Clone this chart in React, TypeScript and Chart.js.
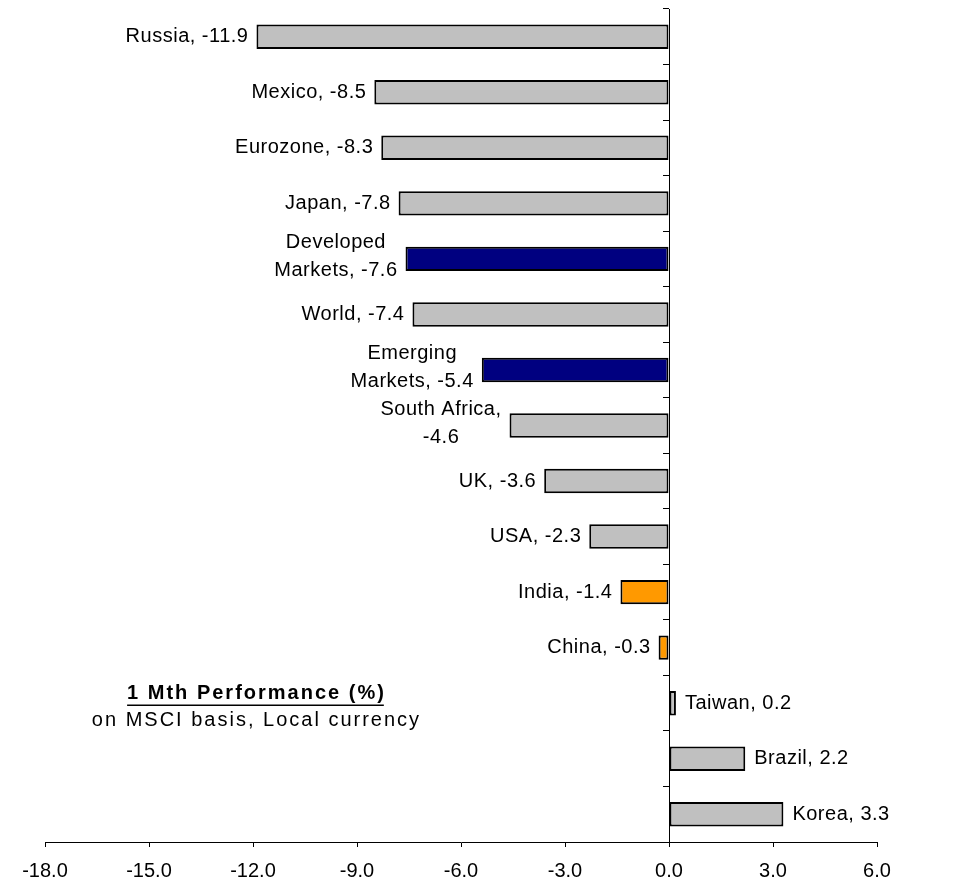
import React, { useEffect, useRef } from 'react';
import { Chart, registerables } from 'chart.js';

Chart.register(...registerables);

const categories = [
  'Russia', 'Mexico', 'Eurozone', 'Japan', 'Developed Markets', 'World',
  'Emerging Markets', 'South Africa', 'UK', 'USA', 'India', 'China',
  'Taiwan', 'Brazil', 'Korea',
];
const values = [-11.9, -8.5, -8.3, -7.8, -7.6, -7.4, -5.4, -4.6, -3.6, -2.3, -1.4, -0.3, 0.2, 2.2, 3.3];
const labelLines: string[][] = [
  ['Russia, -11.9'], ['Mexico, -8.5'], ['Eurozone, -8.3'], ['Japan, -7.8'],
  ['Developed', 'Markets, -7.6'], ['World, -7.4'], ['Emerging', 'Markets, -5.4'],
  ['South Africa,', '-4.6'], ['UK, -3.6'], ['USA, -2.3'], ['India, -1.4'],
  ['China, -0.3'], ['Taiwan, 0.2'], ['Brazil, 2.2'], ['Korea, 3.3'],
];
const GREY = '#C0C0C0';
const NAVY = '#000080';
const ORANGE = '#FF9900';
const barColors = [GREY, GREY, GREY, GREY, NAVY, GREY, NAVY, GREY, GREY, GREY, ORANGE, ORANGE, GREY, GREY, GREY];
const xMin = -18;
const xMax = 6;
const xStep = 3;
const titleText = '1 Mth Performance (%)';
const subtitleText = 'on MSCI basis, Local currency';

const FONT = "'Liberation Sans', Arial, sans-serif";

const labelPlugin = {
  id: 'barLabels',
  afterDatasetsDraw(chart: any) {
    const ctx = chart.ctx as CanvasRenderingContext2D;
    const meta = chart.getDatasetMeta(0);
    ctx.save();
    ctx.font = `20px ${FONT}`;
    (ctx as any).letterSpacing = '0.5px';
    ctx.fillStyle = '#000';
    ctx.textBaseline = 'middle';
    const lineH = 28;
    meta.data.forEach((bar: any, i: number) => {
      const { x, y } = bar.getProps(['x', 'y'], true);
      const lines = labelLines[i];
      const n = lines.length;
      const v = values[i];
      if (v < 0) {
        const maxW = Math.max(...lines.map((l) => ctx.measureText(l).width));
        const cx = x - 8 - maxW / 2;
        ctx.textAlign = 'center';
        lines.forEach((l, j) => {
          ctx.fillText(l, cx, y + (j - (n - 1) / 2) * lineH - (n > 1 ? 2 : 0));
        });
      } else {
        ctx.textAlign = 'left';
        lines.forEach((l, j) => {
          ctx.fillText(l, x + 9, y + (j - (n - 1) / 2) * lineH);
        });
      }
    });

    // annotation
    const xs = chart.scales.x;
    const ys = chart.scales.y;
    const ax = xs.getPixelForValue(-11.9);
    const ay = ys.getPixelForValue(12);
    ctx.textAlign = 'center';
    ctx.font = `bold 20px ${FONT}`;
    (ctx as any).letterSpacing = '2px';
    const y1 = ay - 10;
    ctx.fillText(titleText, ax, y1);
    const tw = ctx.measureText(titleText).width;
    ctx.strokeStyle = '#000';
    ctx.lineWidth = 1.5;
    ctx.beginPath();
    ctx.moveTo(ax - tw / 2, y1 + 12);
    ctx.lineTo(ax + tw / 2 - 2, y1 + 12);
    ctx.stroke();
    ctx.font = `20px ${FONT}`;
    (ctx as any).letterSpacing = '2px';
    ctx.fillText(subtitleText, ax, ay + 17);
    ctx.restore();
  },
};

export default function App() {
  const ref = useRef<HTMLCanvasElement>(null);
  useEffect(() => {
    if (!ref.current) return;
    const chart = new Chart(ref.current, {
      type: 'bar',
      data: {
        labels: categories,
        datasets: [
          {
            data: values,
            backgroundColor: barColors,
            borderColor: '#000',
            borderWidth: 2,
            borderSkipped: false,
            barPercentage: 0.44,
            categoryPercentage: 1,
          },
        ],
      },
      options: {
        indexAxis: 'y',
        animation: false,
        responsive: false,
        devicePixelRatio: 1,
        layout: { padding: { left: 45, right: 92, top: 9, bottom: -12 } },
        plugins: { legend: { display: false }, tooltip: { enabled: false } },
        scales: {
          x: {
            type: 'linear',
            min: xMin,
            max: xMax,
            ticks: {
              stepSize: xStep,
              color: '#000',
              font: { family: FONT, size: 20 },
              padding: 12,
              maxRotation: 0,
              callback: (v: any) => Number(v).toFixed(1),
            },
            grid: {
              display: true,
              drawOnChartArea: false,
              drawTicks: true,
              tickLength: 5,
              tickColor: '#000',
            },
            border: { display: true, color: '#000', width: 1 },
          },
          y: {
            type: 'category',
            position: { x: 0 } as any,
            offset: true,
            ticks: { display: false },
            grid: {
              display: true,
              offset: true,
              drawOnChartArea: false,
              drawTicks: true,
              tickLength: 6,
              tickColor: '#000',
            },
            border: { display: true, color: '#000', width: 1 },
          },
        },
      },
      plugins: [labelPlugin],
    });
    return () => chart.destroy();
  }, []);
  return (
    <div style={{ position: 'absolute', left: 0, top: 0, width: 969, height: 883 }}>
      <canvas ref={ref} width={969} height={883} />
    </div>
  );
}
